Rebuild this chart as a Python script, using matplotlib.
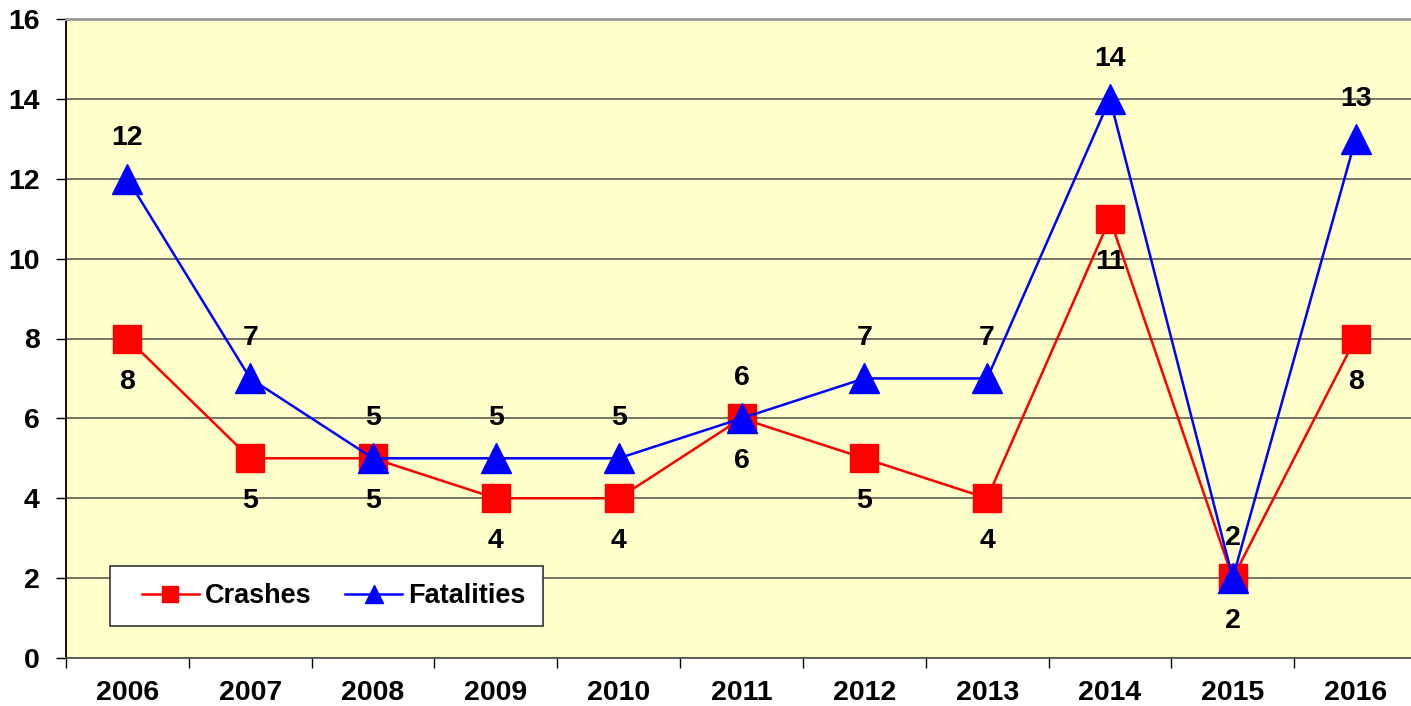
import numpy as np
import matplotlib
matplotlib.use("Agg")
import matplotlib.pyplot as plt
from matplotlib.patches import Rectangle

years = ["2006", "2007", "2008", "2009", "2010", "2011",
         "2012", "2013", "2014", "2015", "2016"]
crashes = [8, 5, 5, 4, 4, 6, 5, 4, 11, 2, 8]
fatalities = [12, 7, 5, 5, 5, 6, 7, 7, 14, 2, 13]

plt.rcParams['font.family'] = ['Liberation Sans', 'DejaVu Sans']
plt.rcParams['font.weight'] = 'bold'
FS = 20.5

fig = plt.figure(figsize=(14.11, 7.06), dpi=100)
W, H = 1411, 706
left, right, top, bottom = 66, 1417, 19, 658
ax = fig.add_axes([left / W, 1 - bottom / H, (right - left) / W, (bottom - top) / H])
ax.set_facecolor('#FFFFCC')

x = np.arange(len(years))
ax.plot(x, crashes, color='#FF0000', lw=1.8, marker='s', ms=20,
        mec='#FF0000', mfc='#FF0000', label='Crashes', zorder=3)
ax.plot(x, fatalities, color='#0000FF', lw=1.8, marker='^', ms=21,
        mec='#0000FF', mfc='#0000FF', label='Fatalities', zorder=4)

# value labels: crashes below, fatalities above
for xi, c, f in zip(x, crashes, fatalities):
    ax.annotate(str(c), (xi, c), xytext=(0, -31), textcoords='offset points',
                ha='center', va='center', fontsize=FS, fontweight='bold', zorder=5)
    ax.annotate(str(f), (xi, f), xytext=(0, 29), textcoords='offset points',
                ha='center', va='center', fontsize=FS, fontweight='bold', zorder=5)

ax.set_xlim(-0.5, len(years) - 0.5)
ax.set_ylim(0, 16)
ax.set_yticks(np.arange(0, 17, 2))
ax.yaxis.grid(True, color='#505048', lw=1.1)
ax.set_axisbelow(True)

ax.set_xticks(x)
ax.set_xticklabels(years)
ax.set_xticks(np.arange(-0.5, len(years), 1), minor=True)
ax.tick_params(axis='x', which='major', length=0, pad=16, labelsize=FS)
ax.tick_params(axis='x', which='minor', length=7, width=1, direction='out')
ax.tick_params(axis='y', length=7, width=1, direction='out', pad=12, labelsize=FS)
for lab in ax.get_xticklabels() + ax.get_yticklabels():
    lab.set_fontweight('bold')

ax.spines['right'].set_visible(False)
ax.spines['top'].set_color('#999999')
ax.spines['top'].set_linewidth(2)
ax.spines['left'].set_linewidth(1.3)
ax.spines['bottom'].set_linewidth(1.3)
ax.spines['bottom'].set_color('#555555')

# legend box drawn separately so the padding can be wider than it is tall
aw, ah = right - left, bottom - top
box = Rectangle(((110 - left) / aw, (bottom - 626) / ah), (543 - 110) / aw, 60 / ah,
                transform=ax.transAxes, facecolor='white', edgecolor='#333333',
                lw=1.2, zorder=6)
ax.add_patch(box)
leg = ax.legend(loc='center left', bbox_to_anchor=((142 - left) / aw, (bottom - 596) / ah),
                ncol=2, frameon=False, borderaxespad=0, borderpad=0,
                handlelength=2.1, handletextpad=0.22, columnspacing=1.25,
                markerscale=0.6, prop={'weight': 'bold', 'size': 19.5})
leg.set_zorder(7)

fig.savefig("out.png", dpi=100)
